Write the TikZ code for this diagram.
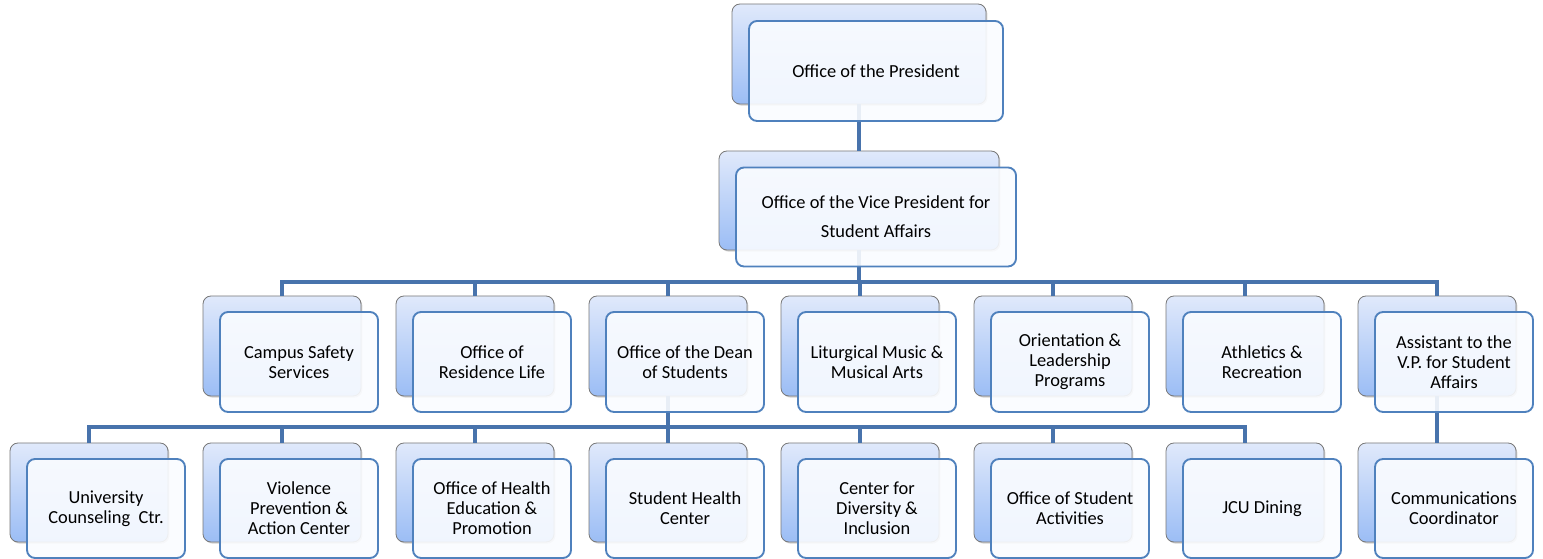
\documentclass[tikz,border=0pt]{standalone}
\usepackage{fontspec}
\setmainfont{Carlito}
\usepackage{xcolor}
\usetikzlibrary{shadows}

\begin{document}
\begin{tikzpicture}[x=0.75pt,y=0.75pt,yscale=-1,xscale=1,
  backbox/.style={draw={rgb,255:red,120;green,120;blue,120},line width=0.6pt,rounded corners=6pt,
    top color={rgb,255:red,224;green,233;blue,251},bottom color={rgb,255:red,155;green,189;blue,245},
    drop shadow={shadow xshift=1pt,shadow yshift=-1.2pt,opacity=0.35},inner sep=0pt,
    minimum width=118.5pt,minimum height=75pt},
  frontbox/.style={draw={rgb,255:red,79;green,129;blue,189},line width=1.4pt,rounded corners=6pt,
    fill={rgb,255:red,250;green,252;blue,255},fill opacity=0.9,text opacity=1,
    inner sep=2pt,align=center,font=\fontsize{13.8}{15}\selectfont,
    minimum width=118.5pt,minimum height=75pt},
  link/.style={draw={rgb,255:red,72;green,115;blue,172},line width=3.6pt}]
\useasboundingbox (0,0) rectangle (1543,559);
%Back boxes
\node [backbox,minimum width=190.5pt] (pres) at (859,54) {};
\node [backbox,minimum width=210pt,minimum height=74.25pt] (vp) at (859,200.5) {};
\node [backbox] (campus) at (282,346) {};
\node [backbox] (residence) at (475,346) {};
\node [backbox] (dean) at (668,346) {};
\node [backbox] (music) at (860,346) {};
\node [backbox] (orient) at (1053,346) {};
\node [backbox] (athletics) at (1245,346) {};
\node [backbox] (assist) at (1437,346) {};
\node [backbox,minimum height=74.25pt] (counsel) at (89,492.5) {};
\node [backbox,minimum height=74.25pt] (violence) at (282,492.5) {};
\node [backbox,minimum height=74.25pt] (health) at (475,492.5) {};
\node [backbox,minimum height=74.25pt] (center) at (668,492.5) {};
\node [backbox,minimum height=74.25pt] (diversity) at (860,492.5) {};
\node [backbox,minimum height=74.25pt] (activities) at (1053,492.5) {};
\node [backbox,minimum height=74.25pt] (dining) at (1245,492.5) {};
\node [backbox,minimum height=74.25pt] (comm) at (1437,492.5) {};
%Connectors
\coordinate (bus2) at (0,282);
\coordinate (bus3) at (0,427);
\draw [link] (pres.south) -- (vp.north);
\draw [link] (vp.south) -- (vp.south |- bus2);
\draw [link,line cap=rect] (campus.north |- bus2) -- (assist.north |- bus2);
\draw [link] (campus.north |- bus2) -- (campus.north);
\draw [link] (residence.north |- bus2) -- (residence.north);
\draw [link] (dean.north |- bus2) -- (dean.north);
\draw [link] (music.north |- bus2) -- (music.north);
\draw [link] (orient.north |- bus2) -- (orient.north);
\draw [link] (athletics.north |- bus2) -- (athletics.north);
\draw [link] (assist.north |- bus2) -- (assist.north);
\draw [link] (dean.south) -- (dean.south |- bus3);
\draw [link,line cap=rect] (counsel.north |- bus3) -- (dining.north |- bus3);
\draw [link] (counsel.north |- bus3) -- (counsel.north);
\draw [link] (violence.north |- bus3) -- (violence.north);
\draw [link] (health.north |- bus3) -- (health.north);
\draw [link] (center.north |- bus3) -- (center.north);
\draw [link] (diversity.north |- bus3) -- (diversity.north);
\draw [link] (activities.north |- bus3) -- (activities.north);
\draw [link] (dining.north |- bus3) -- (dining.north);
\draw [link] (assist.south) -- (comm.north);
%Front boxes
\node [frontbox,minimum width=190.5pt] (pres-f) at (876,71) {Office of the President};
\node [frontbox,minimum width=210pt,minimum height=74.25pt] (vp-f) at (876,217) {Office of the Vice President for\\[6.5pt]Student Affairs};
\node [frontbox] (campus-f) at (299,362) {Campus Safety\\Services};
\node [frontbox] (residence-f) at (492,362) {Office of\\Residence Life};
\node [frontbox] (dean-f) at (685,362) {Office of the Dean\\of Students};
\node [frontbox] (music-f) at (877,362) {Liturgical Music \&\\Musical Arts};
\node [frontbox] (orient-f) at (1070,362) {Orientation \&\\Leadership\\Programs};
\node [frontbox] (athletics-f) at (1262,362) {Athletics \&\\Recreation};
\node [frontbox] (assist-f) at (1454,362) {Assistant to the\\V.P. for Student\\Affairs};
\node [frontbox,minimum height=74.25pt] (counsel-f) at (106,508.5) {University\\Counseling\ \ Ctr.};
\node [frontbox,minimum height=74.25pt] (violence-f) at (299,508.5) {Violence\\Prevention \&\\Action Center};
\node [frontbox,minimum height=74.25pt] (health-f) at (492,508.5) {Office of Health\\Education \&\\Promotion};
\node [frontbox,minimum height=74.25pt] (center-f) at (685,508.5) {Student Health\\Center};
\node [frontbox,minimum height=74.25pt] (diversity-f) at (877,508.5) {Center for\\Diversity \&\\Inclusion};
\node [frontbox,minimum height=74.25pt] (activities-f) at (1070,508.5) {Office of Student\\Activities};
\node [frontbox,minimum height=74.25pt] (dining-f) at (1262,508.5) {JCU Dining};
\node [frontbox,minimum height=74.25pt] (comm-f) at (1454,508.5) {Communications\\Coordinator};
\end{tikzpicture}
\end{document}
